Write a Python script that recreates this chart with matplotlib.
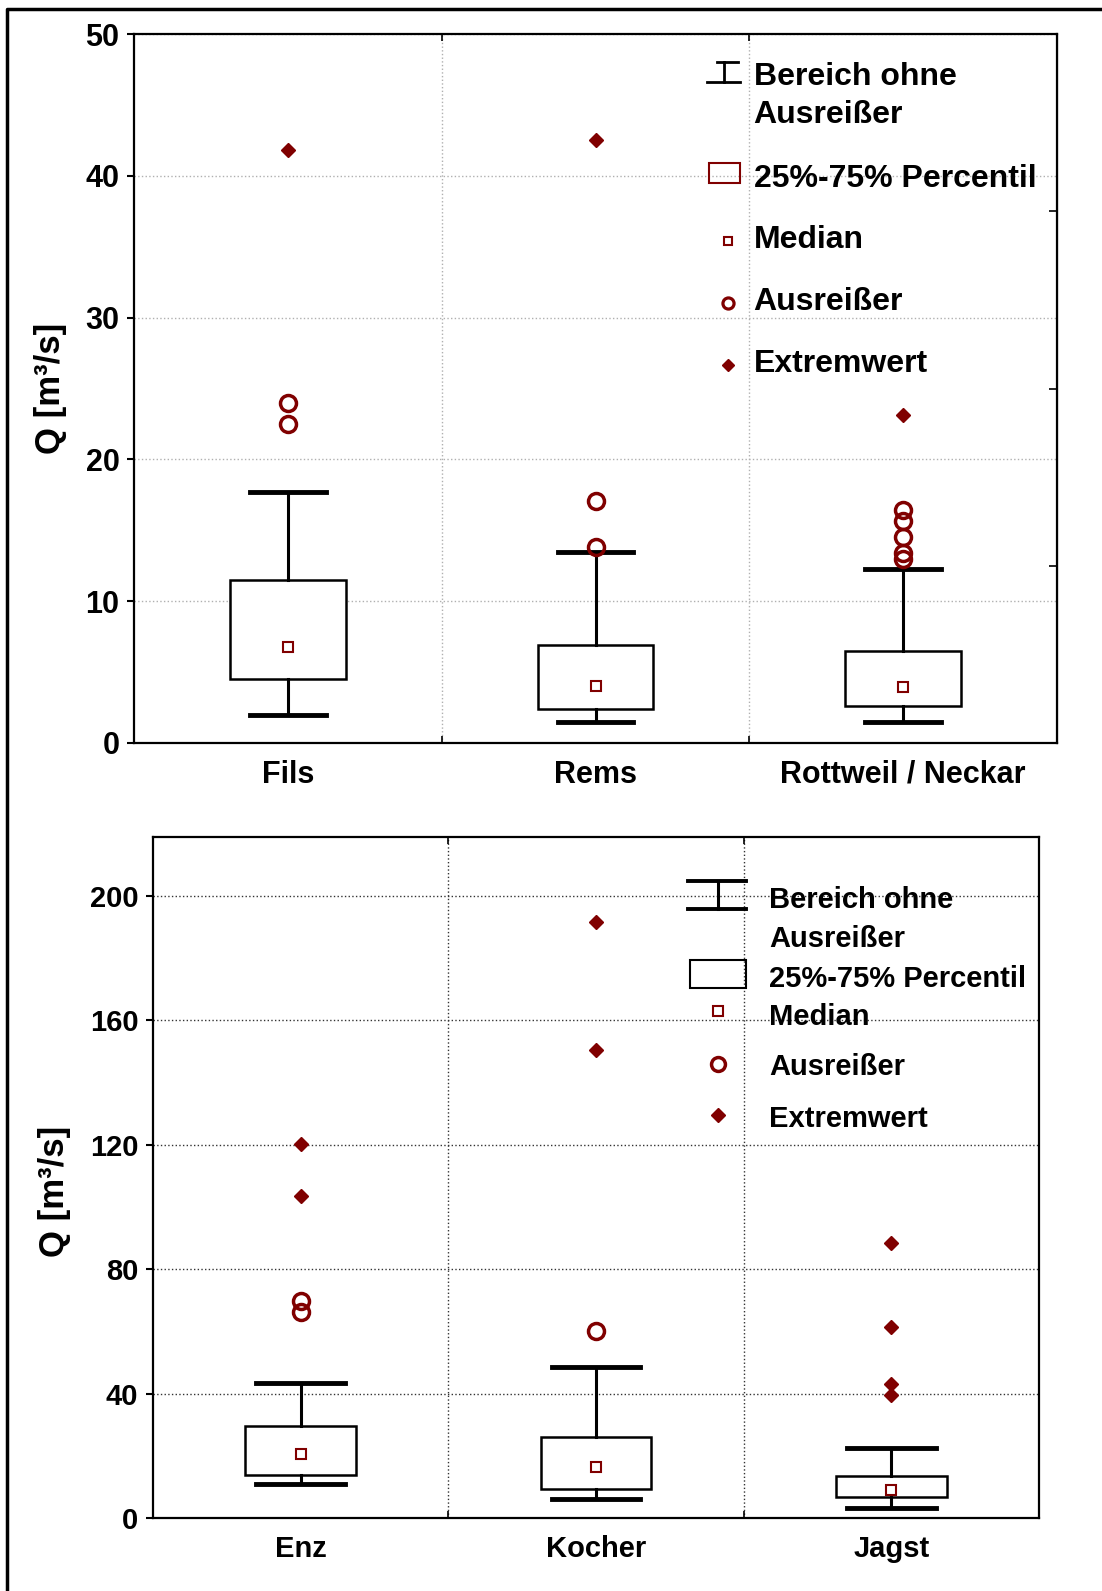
import matplotlib
matplotlib.use("Agg")
import matplotlib.pyplot as plt
from matplotlib.lines import Line2D
from matplotlib.patches import Rectangle
from matplotlib.transforms import Affine2D

plt.rcParams['font.family'] = ['Liberation Sans', 'DejaVu Sans']
plt.rcParams['font.weight'] = 'bold'

W, H = 1102, 1591
DARKRED = '#800000'

# ---------------------------------------------------------------
# Daten (oben)
top_names = ["Fils", "Rems", "Rottweil / Neckar"]
top_q1 = [4.5, 2.4, 2.6]
top_q3 = [11.5, 6.9, 6.5]
top_med = [6.75, 4.0, 3.95]
top_lo = [2.0, 1.5, 1.5]
top_hi = [17.7, 13.45, 12.3]
top_outliers = [[24.0, 22.5], [17.1, 13.85], [16.4, 15.65, 14.5, 13.4, 13.0]]
top_extremes = [[41.8], [42.5], [23.1]]
top_yticks = [0, 10, 20, 30, 40, 50]

# Daten (unten)
bot_names = ["Enz", "Kocher", "Jagst"]
bot_q1 = [13.9, 9.4, 6.75]
bot_q3 = [29.5, 25.9, 13.4]
bot_med = [20.5, 16.3, 9.1]
bot_lo = [11.0, 6.0, 3.3]
bot_hi = [43.3, 48.4, 22.5]
bot_outliers = [[69.7, 66.3], [60.1], []]
bot_extremes = [[120.2, 103.6], [191.7, 150.6], [88.4, 61.5, 43.0, 39.7]]
bot_yticks = [0, 40, 80, 120, 160, 200]

legend_labels = ["Bereich ohne", "Ausreißer", "25%-75% Percentil", "Median", "Ausreißer", "Extremwert"]

# ---------------------------------------------------------------
fig = plt.figure(figsize=(W / 100, H / 100), dpi=100)
px = Affine2D().scale(1 / W, -1 / H).translate(0, 1) + fig.transFigure


def draw_boxes(ax, q1, q3, med, lo, hi, outl, extr, box_w, cap_w):
    pos = list(range(len(q1)))
    stats = [dict(q1=a, q3=b, med=m, whislo=l, whishi=h, fliers=[])
             for a, b, m, l, h in zip(q1, q3, med, lo, hi)]
    ax.bxp(stats, positions=pos, widths=box_w, capwidths=cap_w, patch_artist=True,
           showfliers=False,
           boxprops=dict(facecolor='white', edgecolor='black', linewidth=1.8),
           whiskerprops=dict(color='black', linewidth=2.2),
           capprops=dict(color='black', linewidth=3.5),
           medianprops=dict(linewidth=0), zorder=3)
    ax.plot(pos, med, 's', ms=6.5, mfc='white', mec=DARKRED, mew=1.5, zorder=5)
    for i, vals in enumerate(outl):
        ax.plot([i] * len(vals), vals, 'o', ms=11.5, mfc='none', mec=DARKRED, mew=2.5, zorder=5)
    for i, vals in enumerate(extr):
        ax.plot([i] * len(vals), vals, 'D', ms=7, color=DARKRED, zorder=5)


def style_axes(ax, names, ymax, yticks, fs, grid_color):
    ax.set_xlim(-0.5, len(names) - 0.5)
    ax.set_ylim(0, ymax)
    ax.set_xticks(range(len(names)))
    ax.set_xticklabels(names, fontsize=fs, fontweight='bold')
    ax.tick_params(axis='x', which='major', length=0, pad=12)
    ax.set_xticks([0.5, 1.5], minor=True)
    ax.tick_params(axis='x', which='minor', direction='in', length=5, width=1.2, top=True)
    ax.set_yticks(yticks)
    ax.tick_params(axis='y', labelsize=fs, length=5, width=1.5, pad=5.5)
    ax.grid(True, which='major', axis='y', ls=':', color=grid_color, lw=1)
    ax.grid(True, which='minor', axis='x', ls=':', color=grid_color, lw=1)
    for s in ax.spines.values():
        s.set_linewidth(1.6)
    ax.set_axisbelow(True)


# oberes Diagramm
ax1 = fig.add_axes([134 / W, 1 - 743 / H, 923 / W, 709 / H])
draw_boxes(ax1, top_q1, top_q3, top_med, top_lo, top_hi, top_outliers, top_extremes, 0.377, 0.245)
style_axes(ax1, top_names, 50, top_yticks, 22, '#b0b0b0')
ax1.set_ylabel("Q [m³/s]", fontsize=25, fontweight='bold')
ax1.yaxis.set_label_coords(-0.073, 0.5)
r1 = ax1.secondary_yaxis('right')
r1.set_yticks([12.5, 25, 37.5])
r1.tick_params(direction='in', length=6, width=1.2, labelright=False)

# unteres Diagramm
ax2 = fig.add_axes([153 / W, 1 - 1518 / H, 886 / W, 681 / H])
draw_boxes(ax2, bot_q1, bot_q3, bot_med, bot_lo, bot_hi, bot_outliers, bot_extremes, 0.374, 0.30)
style_axes(ax2, bot_names, 219, bot_yticks, 21, '#333333')
ax2.set_ylabel("Q [m³/s]", fontsize=25, fontweight='bold')
ax2.yaxis.set_label_coords(-0.092, 0.48)


# Legenden (Positionen in Pixel)
def add_line(xs, ys, **kw):
    fig.add_artist(Line2D(xs, ys, transform=px, **kw))


# oben
add_line([717, 738], [62, 62], color='black', lw=2)
add_line([707, 740], [82, 82], color='black', lw=2)
add_line([723.5, 723.5], [62, 82], color='black', lw=2)
fig.add_artist(Rectangle((708.6, 163), 31, 20, transform=px, fill=False, ec=DARKRED, lw=1.5))
add_line([728], [241], marker='s', ms=6, mfc='white', mec=DARKRED, mew=1.5)
add_line([728], [303], marker='o', ms=8, mfc='none', mec=DARKRED, mew=2.3)
add_line([728], [365], marker='D', ms=6, color=DARKRED)
for lab, yb in zip(legend_labels, [85, 123.3, 186.7, 248.3, 310, 371.7]):
    fig.text(753.6, yb, lab, transform=px, fontsize=23, fontweight='bold', va='baseline')

# unten
add_line([688, 745.6], [881, 881], color='black', lw=2.8)
add_line([688, 745.6], [909, 909], color='black', lw=2.8)
add_line([718, 718], [881, 909], color='black', lw=2.2)
fig.add_artist(Rectangle((689.6, 960), 56, 27.7, transform=px, fill=False, ec='black', lw=1.5))
add_line([717.6], [1011], marker='s', ms=6.5, mfc='white', mec=DARKRED, mew=1.5)
add_line([717.6], [1064], marker='o', ms=10, mfc='none', mec=DARKRED, mew=2.5)
add_line([717.6], [1115], marker='D', ms=7, color=DARKRED)
for lab, yb in zip(legend_labels, [908.3, 946.7, 986.7, 1025, 1075, 1126.7]):
    fig.text(769, yb, lab, transform=px, fontsize=21, fontweight='bold', va='baseline')

# Rahmen
add_line([6.5, 6.5, W + 5], [H + 5, 9, 9], color='black', lw=2.5)

fig.savefig("out.png", dpi=100)
